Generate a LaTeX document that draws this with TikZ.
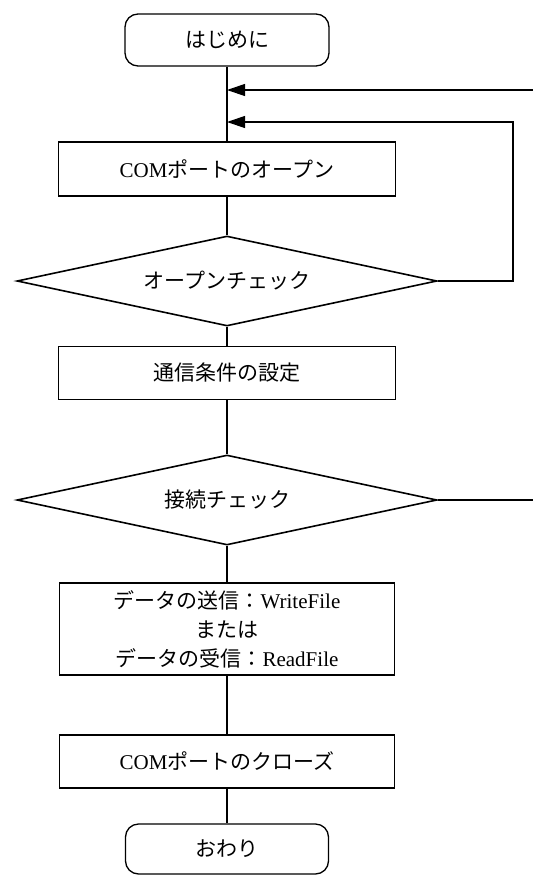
\documentclass[tikz,border=0pt]{standalone}
\usepackage{fontspec}
\setmainfont{Liberation Serif}
\newfontfamily\jp{Noto Sans CJK JP}
\usetikzlibrary{shapes.geometric,arrows.meta}
\tikzset{
  base/.style={draw=black, line width=1.3pt, inner sep=0pt, align=center,
    font=\fontsize{21}{29}\selectfont},
  term/.style={base, rectangle, rounded corners=13pt},
  procbox/.style={base, rectangle, minimum width=337pt},
  decide/.style={base, diamond, shape aspect=4.67, line width=1.6pt, minimum width=420pt, minimum height=90pt},
  conn/.style={line width=1.2pt},
  arr/.style={conn, -{Triangle[length=18pt,width=12pt]}}
}
\begin{document}
\begin{tikzpicture}[x=1pt,y=-1pt]
\useasboundingbox (0,0) rectangle (533,876);
\node[term, minimum width=204pt, minimum height=52pt] (start) at (227,40) {\jp はじめに};
\node[procbox, minimum height=54pt] (open) at (227,169) {COM{\jp ポートのオープン}};
\node[decide] (chk1) at (227,281) {\jp オープンチェック};
\node[procbox, minimum height=53pt] (cond) at (227,373) {\jp 通信条件の設定};
\node[decide] (chk2) at (227,500) {\jp 接続チェック};
\node[procbox, minimum width=335pt, minimum height=92pt] (data) at (227,629)
  {{\jp データの送信：}WriteFile\\{\jp または}\\{\jp データの受信：}ReadFile};
\node[procbox, minimum width=335pt, minimum height=53pt] (close) at (227,761.5) {COM{\jp ポートのクローズ}};
\node[term, minimum width=203pt, minimum height=50pt] (end) at (227,849) {\jp おわり};

\coordinate (j1) at (227,90);
\coordinate (j2) at (227,122);
\coordinate (in1) at (533,90);
\coordinate (out2) at (533,500);
\coordinate (loopc) at (513,281);
\coordinate (loopt) at (513,122);

\draw[conn] (start.south) -- (open.north);
\draw[conn] (open.south) -- (chk1.north);
\draw[conn] (chk1.south) -- (cond.north);
\draw[conn] (cond.south) -- (chk2.north);
\draw[conn] (chk2.south) -- (data.north);
\draw[conn] (data.south) -- (close.north);
\draw[conn] (close.south) -- (end.north);
\draw[arr] (in1) -- (j1);
\draw[arr] (chk1.east) -- (loopc) -- (loopt) -- (j2);
\draw[conn] (chk2.east) -- (out2);
\end{tikzpicture}
\end{document}
